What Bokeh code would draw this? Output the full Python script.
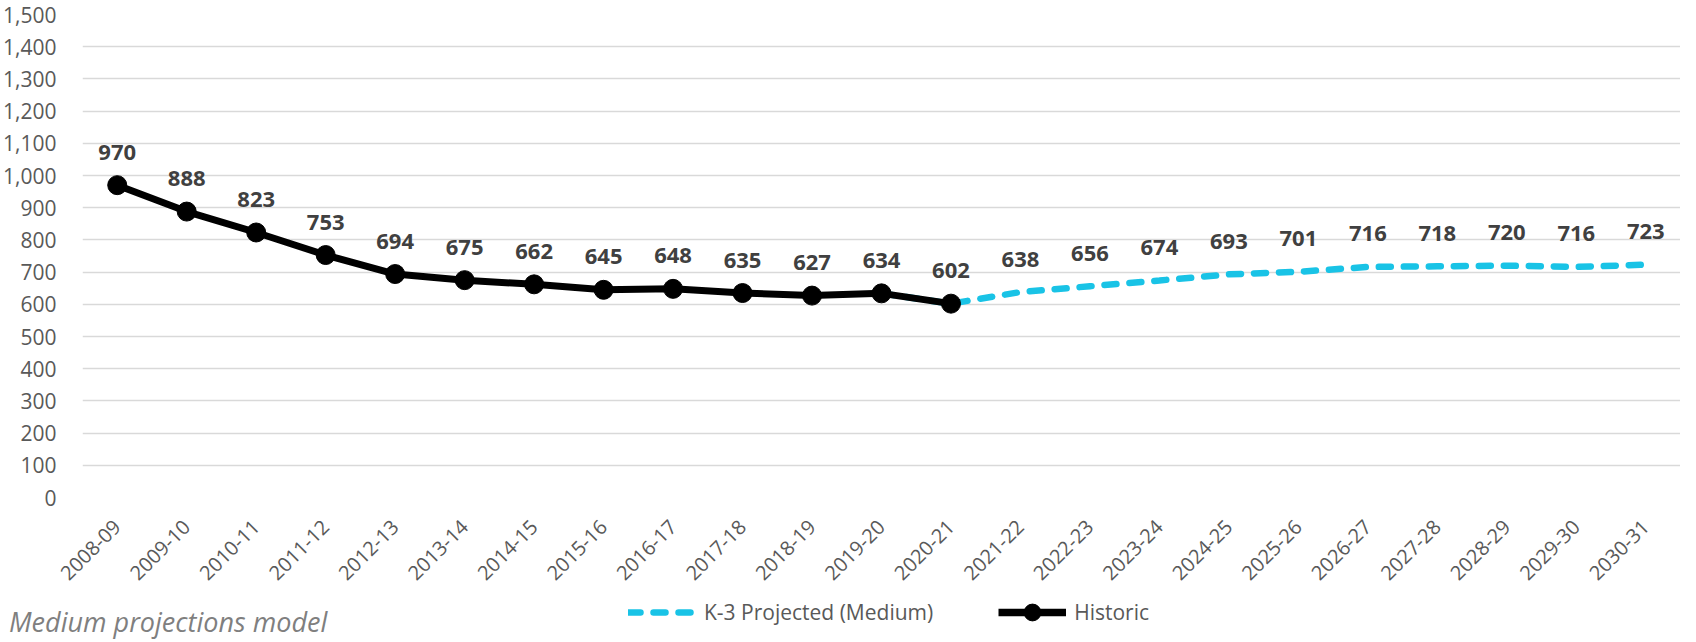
from bokeh.plotting import figure
from bokeh.layouts import column, row
from bokeh.models import (FactorRange, FixedTicker, NumeralTickFormatter, Legend, LegendItem,
                          ColumnDataSource, Range1d, Div)
from bokeh.core.properties import value
from bokeh.embed import file_html
from bokeh.resources import INLINE

years = ["2008-09", "2009-10", "2010-11", "2011-12", "2012-13", "2013-14", "2014-15",
         "2015-16", "2016-17", "2017-18", "2018-19", "2019-20", "2020-21", "2021-22",
         "2022-23", "2023-24", "2024-25", "2025-26", "2026-27", "2027-28", "2028-29",
         "2029-30", "2030-31"]
hist_years = years[:13]
hist_values = [970, 888, 823, 753, 694, 675, 662, 645, 648, 635, 627, 634, 602]
proj_years = years[11:]
proj_values = [634, 602, 638, 656, 674, 693, 701, 716, 718, 720, 716, 723]
label_years = years
label_values = hist_values + proj_values[2:]
y_ticks = list(range(0, 1501, 100))

FONT = "Open Sans"
CYAN = "#19C3E6"
DASH = "12 13"

p = figure(x_range=FactorRange(*years), y_range=Range1d(0, 1500),
           width=1680, height=590, output_backend="svg", toolbar_location=None,
           min_border_left=79, min_border_right=0, min_border_top=14, min_border_bottom=93)
p.outline_line_color = None

p.xgrid.grid_line_color = None
p.ygrid.grid_line_color = "#D9D9D9"
p.ygrid.grid_line_width = 1.5
p.yaxis.ticker = FixedTicker(ticks=y_ticks)
p.yaxis.formatter = NumeralTickFormatter(format="0,0")

for ax in (p.xaxis, p.yaxis):
    ax.axis_line_color = None
    ax.major_tick_line_color = None
    ax.minor_tick_line_color = None
    ax.major_label_text_font = FONT
    ax.major_label_text_color = "#595959"
p.yaxis.major_label_text_font_size = "21px"
p.xaxis.major_label_text_font_size = "20px"
p.xaxis.major_label_orientation = 0.785398
p.xaxis.major_label_standoff = 20
p.yaxis.major_label_standoff = 20

proj_src = ColumnDataSource(dict(x=proj_years, y=proj_values))
hist_src = ColumnDataSource(dict(x=hist_years, y=hist_values))
lab_src = ColumnDataSource(dict(x=label_years, y=label_values,
                                t=[f"{v:,}" for v in label_values]))

p.line("x", "y", source=proj_src, line_color=CYAN, line_width=6.5,
       line_dash=DASH, line_cap="round")
p.line("x", "y", source=hist_src, line_color="black", line_width=7, line_join="round")
p.scatter("x", "y", source=hist_src, size=19, fill_color="black", line_color="black")

p.text("x", "y", text="t", source=lab_src, text_font=value(FONT), text_font_style="bold",
       text_font_size="22px", text_color="#404040", text_align="center",
       text_baseline="middle", y_offset=-33)

# footer: note (Div) + legend figure
note = Div(text='<div style="font-family:\'Open Sans\';font-style:italic;font-size:27px;'
                'color:#7F7F7F;line-height:1.2;padding-left:4px;padding-top:11px;'
                'white-space:nowrap;">Medium projections model</div>',
           width=340, height=44)

lf = figure(width=1340, height=44, x_range=FactorRange(*years), y_range=Range1d(5000, 5044),
            output_backend="svg", toolbar_location=None,
            min_border_left=0, min_border_right=0, min_border_top=0, min_border_bottom=0)
lf.axis.visible = False
lf.grid.visible = False
lf.outline_line_color = None

lp = lf.line("x", "y", source=proj_src, line_color=CYAN, line_width=6.5,
             line_dash=DASH, line_cap="round")
lh = lf.line("x", "y", source=hist_src, line_color="black", line_width=7.5)
sh = lf.scatter("x", "y", source=hist_src, size=19, fill_color="black", line_color="black")

legend = Legend(items=[LegendItem(label="K-3 Projected (Medium)", renderers=[lp]),
                       LegendItem(label="Historic", renderers=[lh, sh])],
                orientation="horizontal", location=(278, 1),
                border_line_color=None, background_fill_alpha=0,
                label_text_font=FONT, label_text_font_size="21px",
                label_text_color="#595959", glyph_width=68, glyph_height=42,
                spacing=65, label_standoff=8, padding=0, margin=0)
lf.add_layout(legend)

layout = column(p, row(note, lf, spacing=0), spacing=0)
open("out.html", "w").write(file_html(layout, INLINE))
